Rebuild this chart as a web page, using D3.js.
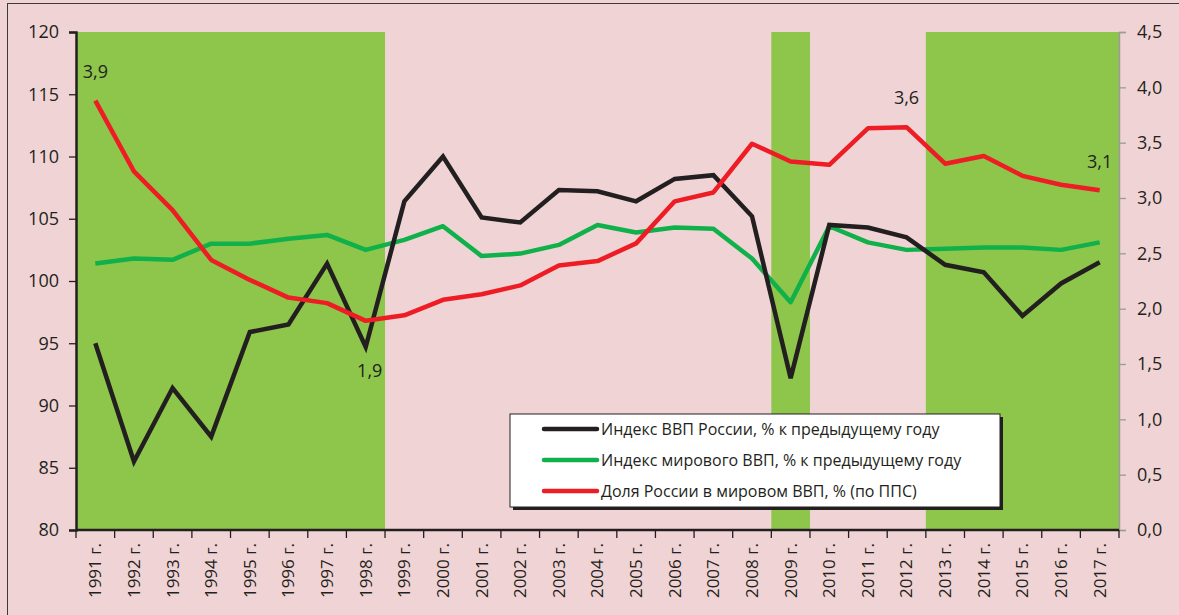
<!DOCTYPE html>
<html>
<head>
<meta charset="utf-8">
<script src="https://cdn.jsdelivr.net/npm/d3@7"></script>
<style>
  body { margin: 0; background: #f0d4d5; }
  svg { display: block; }
  svg text { font-family: "Open Sans", "DejaVu Sans", sans-serif; }
</style>
</head>
<body>
<div id="chart"></div>
<script>
// data
const years = ["1991","1992","1993","1994","1995","1996","1997","1998","1999","2000",
  "2001","2002","2003","2004","2005","2006","2007","2008","2009","2010",
  "2011","2012","2013","2014","2015","2016","2017"]
const russiaIndex = [95.0, 85.5, 91.4, 87.5, 95.9, 96.5, 101.4, 94.7, 106.4, 110.0,
  105.1, 104.7, 107.3, 107.2, 106.4, 108.2, 108.5, 105.2, 92.2, 104.5,
  104.3, 103.5, 101.3, 100.7, 97.2, 99.8, 101.5]
const worldIndex = [101.4, 101.8, 101.7, 103.0, 103.0, 103.4, 103.7, 102.5, 103.3, 104.4,
  102.0, 102.2, 102.9, 104.5, 103.9, 104.3, 104.2, 101.8, 98.3, 104.4,
  103.1, 102.5, 102.6, 102.7, 102.7, 102.5, 103.1]
const russiaShare = [3.88, 3.24, 2.89, 2.44, 2.26, 2.10, 2.05, 1.89, 1.94, 2.08,
  2.13, 2.21, 2.39, 2.43, 2.59, 2.97, 3.05, 3.49, 3.33, 3.30,
  3.63, 3.64, 3.31, 3.38, 3.20, 3.12, 3.07]
const crisisSpans = [["1991", "1998"], ["2009", "2009"], ["2013", "2017"]]
const leftTicks = [80, 85, 90, 95, 100, 105, 110, 115, 120]
const rightTicks = [0, 0.5, 1, 1.5, 2, 2.5, 3, 3.5, 4, 4.5]
const shareLabels = [
  { year: "1991", text: "3,9", dx: 0, dy: -23 },
  { year: "1998", text: "1,9", dx: 4, dy: 56 },
  { year: "2012", text: "3,6", dx: 0, dy: -23 },
  { year: "2017", text: "3,1", dx: 0, dy: -22 }
]
const legendItems = [
  { name: "Индекс ВВП России, % к предыдущему году", color: "#231f20" },
  { name: "Индекс мирового ВВП, % к предыдущему году", color: "#10b04a" },
  { name: "Доля России в мировом ВВП, % (по ППС)", color: "#ee1c25" }
]

const width = 1179, height = 615
const plot = { left: 76, right: 1119, top: 32, bottom: 530 }

const svg = d3.select("#chart").append("svg")
  .attr("width", width).attr("height", height)

svg.append("rect").attr("width", width).attr("height", height).attr("fill", "#f0d4d5")
// outer frame
svg.append("rect").attr("x", 7.5).attr("y", 3.5)
  .attr("width", width + 10).attr("height", height + 10)
  .attr("fill", "none").attr("stroke", "#3a3a3a").attr("stroke-width", 1)

const x = d3.scaleBand().domain(years).range([plot.left, plot.right])
const yL = d3.scaleLinear().domain([80, 120]).range([plot.bottom, plot.top])
const yR = d3.scaleLinear().domain([0, 4.5]).range([plot.bottom, plot.top])
const cx = d => x(d) + x.bandwidth() / 2

// green crisis bands
svg.append("g").selectAll("rect").data(crisisSpans).join("rect")
  .attr("x", d => x(d[0]))
  .attr("width", d => x(d[1]) + x.bandwidth() - x(d[0]))
  .attr("y", plot.top).attr("height", plot.bottom - plot.top)
  .attr("fill", "#8dc64a")

// left axis
const axL = svg.append("g").attr("transform", `translate(${plot.left},0)`)
  .call(d3.axisLeft(yL).tickValues(leftTicks).tickSize(7).tickPadding(10))
axL.attr("font-family", null)
axL.select(".domain").attr("stroke", "#231f20").attr("stroke-width", 2.5)
axL.selectAll(".tick line").attr("stroke", "#231f20").attr("stroke-width", 1.3)
axL.selectAll("text").style("font-size", "18px").attr("fill", "#231f20")

// right axis
const axR = svg.append("g").attr("transform", `translate(${plot.right},0)`)
  .call(d3.axisRight(yR).tickValues(rightTicks).tickSize(7).tickPadding(11)
    .tickFormat(d => d3.format(".1f")(d).replace(".", ",")))
axR.attr("font-family", null)
axR.select(".domain").attr("stroke", "#9a9a9a").attr("stroke-width", 1.5)
axR.selectAll(".tick line").attr("stroke", "#9a9a9a").attr("stroke-width", 1.3)
axR.selectAll("text").style("font-size", "18px").attr("fill", "#231f20")

// x axis
const axX = svg.append("g").attr("transform", `translate(0,${plot.bottom})`)
  .call(d3.axisBottom(x).tickSize(0).tickFormat(d => d + " г."))
axX.attr("font-family", null)
axX.select(".domain").remove()
svg.append("line").attr("x1", plot.left).attr("x2", plot.right)
  .attr("y1", plot.bottom).attr("y2", plot.bottom)
  .attr("stroke", "#231f20").attr("stroke-width", 2.5)
svg.append("g").selectAll("line").data(years.concat(["end"])).join("line")
  .attr("x1", (d, i) => plot.left + i * x.step())
  .attr("x2", (d, i) => plot.left + i * x.step())
  .attr("y1", plot.bottom).attr("y2", plot.bottom + 8)
  .attr("stroke", "#231f20").attr("stroke-width", 1.3)
axX.selectAll("text")
  .attr("transform", "rotate(-90)")
  .attr("x", -13).attr("y", 0).attr("dy", "0.35em")
  .style("text-anchor", "end")
  .style("font-size", "17px").attr("fill", "#231f20")

// lines
const lineL = d3.line().x((d, i) => cx(years[i])).y(d => yL(d))
const lineR = d3.line().x((d, i) => cx(years[i])).y(d => yR(d))
svg.append("path").datum(worldIndex).attr("d", lineL)
  .attr("fill", "none").attr("stroke", "#10b04a").attr("stroke-width", 4.5).attr("stroke-linejoin", "round")
svg.append("path").datum(russiaIndex).attr("d", lineL)
  .attr("fill", "none").attr("stroke", "#231f20").attr("stroke-width", 4.5).attr("stroke-linejoin", "miter")
svg.append("path").datum(russiaShare).attr("d", lineR)
  .attr("fill", "none").attr("stroke", "#ee1c25").attr("stroke-width", 4.5).attr("stroke-linejoin", "round")

// data labels
svg.append("g").selectAll("text").data(shareLabels).join("text")
  .attr("x", d => cx(d.year) + d.dx)
  .attr("y", d => yR(russiaShare[years.indexOf(d.year)]) + d.dy)
  .attr("text-anchor", "middle")
  .style("font-size", "18px").attr("fill", "#231f20")
  .text(d => d.text)

// legend
const lg = svg.append("g").attr("transform", "translate(510,414)")
lg.append("rect").attr("x", 3).attr("y", 3).attr("width", 490).attr("height", 93).attr("fill", "#231f20")
lg.append("rect").attr("width", 490).attr("height", 93).attr("fill", "#ffffff")
  .attr("stroke", "#231f20").attr("stroke-width", 1)
const li = lg.selectAll("g.item").data(legendItems).join("g")
  .attr("transform", (d, i) => `translate(0,${15 + i * 31})`)
li.append("line").attr("x1", 34).attr("x2", 87)
  .attr("stroke", d => d.color).attr("stroke-width", 4.5).attr("stroke-linecap", "round")
li.append("text").attr("x", 91).attr("dy", "0.35em")
  .style("font-size", "16px").attr("fill", "#231f20")
  .text(d => d.name)
</script>
</body>
</html>
